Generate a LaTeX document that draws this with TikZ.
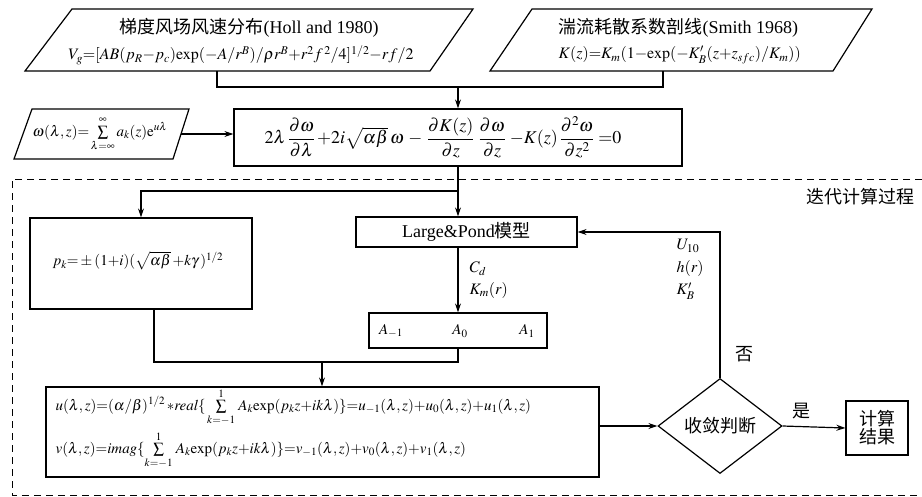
\documentclass[tikz,border=0pt]{standalone}
\usepackage{mathptmx}
\usepackage{amsmath}
\usepackage{fontspec}
\setmainfont{Liberation Serif}
\newfontfamily\cjk{Noto Sans CJK SC}
\usetikzlibrary{arrows.meta,shapes.geometric}
\begin{document}
\begin{tikzpicture}[x=1pt,y=-1pt,
  line width=1.2pt,
  arr/.style={-{Stealth[length=9pt,width=6pt]}},
  boxs/.style={draw,rectangle,inner sep=0pt},
  txt/.style={inner sep=0pt,font=\fontsize{15}{17}\selectfont},
  big/.style={inner sep=0pt,font=\fontsize{18}{20}\selectfont},
  lbl/.style={inner sep=0pt,anchor=west,font=\fontsize{16}{18}\selectfont},
  dashb/.style={dash pattern=on 7pt off 5pt,line width=0.9pt}]
\useasboundingbox (0,0) rectangle (922,496);
% dashed region
\draw[dashb] (922,179) -- (12,179) -- (12,495) -- (922,495);
\node[big,anchor=east] (iter) at (915,197) {\cjk 迭代计算过程};
% top-left parallelogram
\draw (72,9) -- (473,9) -- (430,71) -- (25,71) -- cycle;
\node[big] (holl1) at (249,28) {{\cjk 梯度风场风速分布}(Holl and 1980)};
\node[txt,font=\fontsize{16}{18}\selectfont] (holl2) at (241,55) {$V_g{=}[AB(p_R{-}p_c)\mathrm{exp}({-}A/r^B)/\rho r^B{+}r^2f^{\,2}/4]^{1/2}{-}rf/2$};
\coordinate (hollb) at (217,71);
% top-right parallelogram
\draw (532,9) -- (872,9) -- (833,71) -- (490,71) -- cycle;
\node[big,anchor=west] (smith1) at (558,28) {{\cjk 湍流耗散系数剖线}(Smith 1968)};
\node[lbl] (smith2) at (558,55) {$K(z){=}K_m(1{-}\mathrm{exp}({-}K'_B(z{+}z_{sfc})/K_m))$};
\coordinate (smithb) at (663,71);
% omega parallelogram
\draw (32,109) -- (189,109) -- (173,159) -- (14,159) -- cycle;
\node[txt] (omega) at (100,134) {$\omega(\lambda,z){=}\sum\limits_{\lambda=\infty}^{\infty}a_k(z)\mathrm{e}^{u\lambda}$};
\coordinate (omegar) at (181,134);
% equation box
\node[boxs,minimum width=448pt,minimum height=57pt] (eq) at (458,137.5) {};
\node[big] (eqt) at (443,137) {$2\lambda\,\dfrac{\partial\omega}{\partial\lambda}\,{+}2i\sqrt{\alpha\beta}\,\omega\,-\,\dfrac{\partial K(z)}{\partial z}\;\dfrac{\partial\omega}{\partial z}\;{-}K(z)\,\dfrac{\partial^2\omega}{\partial z^2}\;{=}0$};
% pk box
\node[boxs,minimum width=222pt,minimum height=91pt] (pk) at (141,263.5) {};
\node[txt] (pkt) at (138,261) {$p_k{=}\pm(1{+}i)(\sqrt{\alpha\beta}\,{+}k\gamma\,)^{1/2}$};
% Large & Pond
\node[boxs,minimum width=221pt,minimum height=30pt,font=\fontsize{18}{20}\selectfont] (lp) at (466.5,232) {Large\&Pond{\cjk 模型}};
% A box
\node[boxs,minimum width=178pt,minimum height=35pt] (ab) at (458,330.5) {};
\node[txt] (am1) at (391,331) {$A_{-1}$};
\node[txt] (a0) at (460,331) {$A_{0}$};
\node[txt] (a1) at (527,331) {$A_{1}$};
\node[lbl] (cd) at (469,269) {$C_d$};
\node[lbl] (km) at (469,290) {$K_m(r)$};
% u v box
\node[boxs,minimum width=553pt,minimum height=90pt] (uv) at (322.5,432) {};
\node[txt,anchor=west] (ut) at (55,407) {$u(\lambda,z){=}(\alpha/\beta)^{1/2}\,{*}\mathit{real}\{\,\sum\limits_{k=-1}^{1}\,A_k\mathrm{exp}(p_kz{+}ik\lambda)\}{=}u_{-1}(\lambda,z){+}u_0(\lambda,z){+}u_1(\lambda,z)$};
\node[txt,anchor=west] (vt) at (55,450) {$v(\lambda,z){=}\mathit{imag}\{\sum\limits_{k=-1}^{1}\,A_k\mathrm{exp}(p_kz{+}ik\lambda)\}{=}v_{-1}(\lambda,z){+}v_0(\lambda,z){+}v_1(\lambda,z)$};
% diamond
\node[draw,diamond,aspect=1.3,minimum width=124pt,minimum height=95pt,inner sep=0pt,font=\fontsize{18}{20}\selectfont\cjk] (dm) at (720,426) {收敛判断};
% result
\node[boxs,minimum width=62pt,minimum height=54pt,align=center,font=\fontsize{18}{18}\selectfont\cjk] (res) at (877,428) {计算\\结果};
% labels
\node[lbl] (u10) at (676,246) {$U_{10}$};
\node[lbl] (hr) at (676,268) {$h(r)$};
\node[lbl] (kb) at (676,291) {$K'_B$};
\node[big,font=\fontsize{18}{20}\selectfont\cjk] (no) at (744,354) {否};
\node[big,font=\fontsize{18}{20}\selectfont\cjk] (yes) at (801,411) {是};
% connectors
\coordinate (j1) at (458,87);
\coordinate (j2) at (458,191);
\coordinate (j3) at (141,191);
\coordinate (j4) at (322,362);
\draw (hollb) |- (j1);
\draw (smithb) |- (j1);
\draw[arr] (j1) -- (eq.north);
\draw[arr] (omegar) -- (eq.west |- omegar);
\draw (eq.south) -- (j2);
\draw[arr] (j2) -- (lp.north -| j2);
\draw[arr] (j2) -- (j3) -- (pk.north);
\draw[arr] (lp.south -| ab.north) -- (ab.north);
\draw (pk.south -| 154,0) |- (j4);
\draw (ab.south) |- (j4);
\draw[arr] (j4) -- (uv.north -| j4);
\draw[arr] (uv.east |- dm.west) -- (dm.west);
\draw[arr] (dm.east) -- (res.west);
\draw[arr] (dm.north) |- (lp.east);
\end{tikzpicture}
\end{document}
